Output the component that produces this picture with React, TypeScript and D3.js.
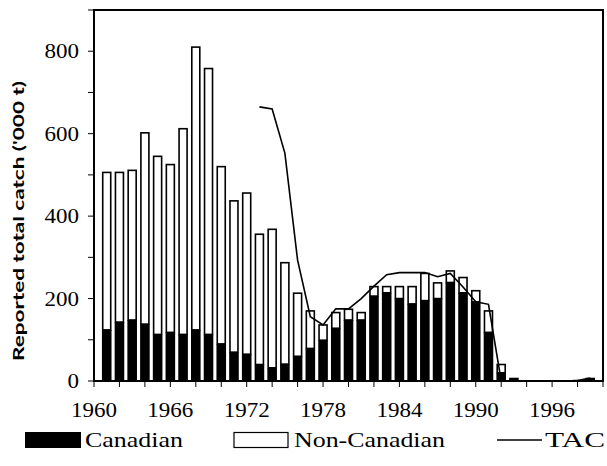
import React from 'react';
import * as d3 from 'd3';

const W = 607;
const H = 466;

const years = d3.range(1961, 2000);
const canadian = [
    124, 143, 148, 138, 113, 118, 113, 124, 113, 90,
    70, 65, 40, 32, 41, 60, 79, 99, 128, 148,
    148, 206, 214, 200, 187, 195, 200, 239, 214, 192,
    118, 20, 8, 0, 0, 0, 0, 3, 8,
];
const nonCanadian = [
    382, 363, 363, 464, 432, 407, 499, 686, 645, 430,
    367, 391, 316, 336, 246, 153, 91, 37, 38, 26,
    18, 23, 15, 29, 42, 66, 38, 28, 37, 27,
    52, 20, 0, 0, 0, 0, 0, 0, 0,
];
const tacYears = d3.range(1973, 2000);
const tac = [
    665, 660, 553, 293, 156, 136, 175, 175, 200, 230,
    258, 263, 263, 263, 253, 261, 228, 192, 186, 0,
    0, 0, 0, 0, 0, 1, 7,
];
const xTickLabels = [1960, 1966, 1972, 1978, 1984, 1990, 1996];
const yTickLabels = [0, 200, 400, 600, 800];

const serif = '"Liberation Serif", "Times New Roman", serif';

export default function App() {
    const x = d3.scaleLinear().domain([1960, 2000]).range([94, 603]);
    const y = d3.scaleLinear().domain([0, 900]).range([381, 10]);
    const barW = 8;

    const line = d3
        .line<number>()
        .x((_, i) => x(tacYears[i]))
        .y((d) => y(d));

    const minorX = d3.range(1960, 2001, 2);
    const minorY = d3.range(0, 901, 100);

    return (
        <svg width={W} height={H} style={{ position: 'absolute', left: 0, top: 0 }}>
            <rect width={W} height={H} fill="#fff" />

            {/* bars */}
            {years.map((yr, i) => {
                const c = canadian[i];
                const n = nonCanadian[i];
                return (
                    <g key={yr}>
                        {n > 0 && (
                            <rect
                                x={x(yr) - barW / 2}
                                y={y(c + n)}
                                width={barW}
                                height={y(c) - y(c + n)}
                                fill="#fff"
                                stroke="#000"
                                strokeWidth={1.6}
                            />
                        )}
                        {c > 0 && (
                            <rect
                                x={x(yr) - barW / 2 - 0.8}
                                y={y(c)}
                                width={barW + 1.6}
                                height={y(0) - y(c)}
                                fill="#000"
                            />
                        )}
                    </g>
                );
            })}

            {/* TAC */}
            <path d={line(tac) || ''} fill="none" stroke="#000" strokeWidth={1.6} />

            {/* frame */}
            <rect x={94} y={10} width={509} height={371} fill="none" stroke="#000" strokeWidth={2} />

            {/* y ticks */}
            {minorY.map((v) => (
                <line key={v} x1={88} x2={94} y1={y(v)} y2={y(v)} stroke="#000" strokeWidth={1} />
            ))}
            {yTickLabels.map((v) => (
                <text
                    key={v}
                    x={79}
                    y={y(v)}
                    dy="0.35em"
                    textAnchor="end"
                    fontFamily={serif}
                    fontSize={20}
                    textLength={String(v).length * 11.5}
                    lengthAdjust="spacingAndGlyphs"
                >
                    {v}
                </text>
            ))}

            {/* x ticks */}
            {minorX.map((v) => (
                <line key={v} x1={x(v)} x2={x(v)} y1={381} y2={387} stroke="#000" strokeWidth={1} />
            ))}
            {xTickLabels.map((v) => (
                <text
                    key={v}
                    x={x(v)}
                    y={417}
                    textAnchor="middle"
                    fontFamily={serif}
                    fontSize={20}
                    textLength={46}
                    lengthAdjust="spacingAndGlyphs"
                >
                    {v}
                </text>
            ))}

            <text
                transform="translate(24,221) rotate(-90)"
                textAnchor="middle"
                fontFamily="Lato, 'Open Sans', sans-serif"
                fontWeight="bold"
                fontSize={16}
                textLength={280}
                lengthAdjust="spacingAndGlyphs"
            >
                Reported total catch ('000 t)
            </text>

            {/* legend */}
            <rect x={25} y={432} width={56} height={16} fill="#000" />
            <text x={85} y={447} fontFamily={serif} fontSize={21} textLength={98} lengthAdjust="spacingAndGlyphs">
                Canadian
            </text>
            <rect x={234} y={432.5} width={54} height={15} fill="#fff" stroke="#000" strokeWidth={1.2} />
            <text x={294} y={447} fontFamily={serif} fontSize={21} textLength={151} lengthAdjust="spacingAndGlyphs">
                Non-Canadian
            </text>
            <line x1={497} x2={542} y1={440} y2={440} stroke="#000" strokeWidth={1.6} />
            <text x={545} y={447} fontFamily={serif} fontSize={21} textLength={60} lengthAdjust="spacingAndGlyphs">
                TAC
            </text>
        </svg>
    );
}
